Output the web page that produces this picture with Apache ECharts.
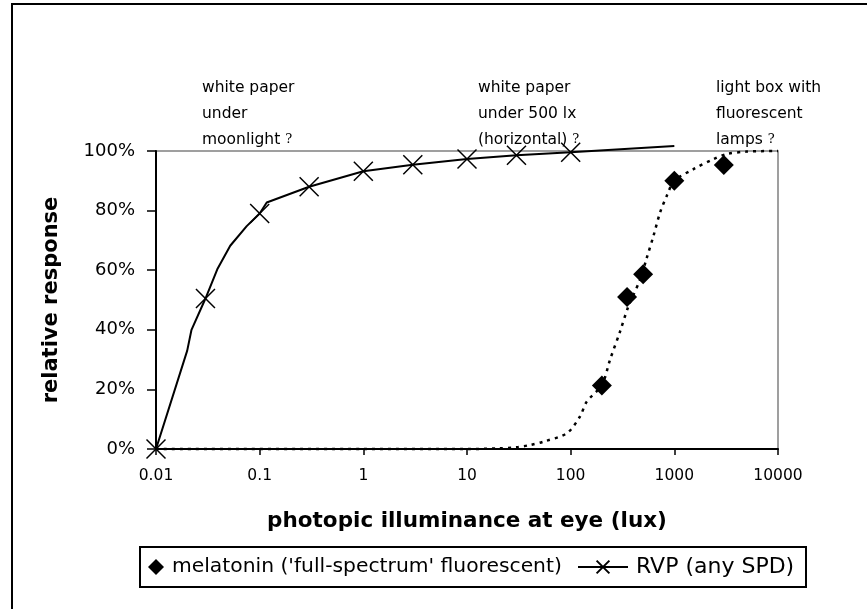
<!DOCTYPE html>
<html>
<head>
<meta charset="utf-8">
<script src="https://cdn.jsdelivr.net/npm/echarts@6/dist/echarts.min.js"></script>
<style>
  html, body { margin: 0; padding: 0; background: #fff; }
  #chart { width: 867px; height: 609px; }
</style>
</head>
<body>
<div id="chart"></div>
<script>
'use strict';

// RVP curve (line) - markers only where rvpMarked is 1
const rvpX = [0.01, 0.02, 0.022, 0.03, 0.039, 0.052, 0.075, 0.1, 0.117, 0.3, 1, 3, 10, 30, 100, 1000];
const rvpY = [0, 33, 40, 50.5, 60.3, 68.2, 74.8, 79, 82.7, 88, 93.2, 95.4, 97.3, 98.6, 99.6, 101.7];
const rvpMarked = [1, 0, 0, 1, 0, 0, 0, 1, 0, 1, 1, 1, 1, 1, 1, 0];

// melatonin measured points (diamonds)
const melX = [200, 350, 500, 1000, 3000];
const melY = [21.3, 51, 58.6, 90, 95.3];

// melatonin fitted curve (dotted)
const fitX = [0.01, 1, 10, 20, 30, 40, 55, 92, 123, 143, 200, 240, 300, 361, 468, 543, 629, 729, 847, 1000, 1528, 2384, 3206, 5000, 10000];
const fitY = [0, 0, 0, 0.2, 0.6, 1.3, 2.5, 5.3, 10.9, 15.9, 21.5, 30, 39.5, 47.9, 56.9, 64.2, 71.5, 79.4, 85, 90, 93.9, 97.3, 99, 99.8, 100];

const xTickLabels = ['0.01', '0.1', '1', '10', '100', '1000', '10000'];
const yTickLabels = ['0%', '20%', '40%', '60%', '80%', '100%'];

const melName = "melatonin ('full-spectrum' fluorescent)";
const rvpName = 'RVP (any SPD)';

const notes = [
    { x: 202, lines: ['white paper', 'under', 'moonlight'] },
    { x: 478, lines: ['white paper', 'under 500 lx', '(horizontal)'] },
    { x: 716, lines: ['light box with', 'fluorescent', 'lamps'] }
];

const FONT = '"DejaVu Sans", "Liberation Sans", Arial, sans-serif';
const crossPath = 'path://M0,0L10,10M10,0L0,10';

let chart = echarts.init(document.getElementById('chart'), null, { renderer: 'canvas' });

//
let noteGraphics = notes.map(function (n) {
    let body = n.lines.slice(0, -1).join('\n') + '\n' + n.lines[n.lines.length - 1] + ' {q|?}';
    return {
        type: 'text',
        left: n.x,
        top: 75,
        style: {
            text: body,
            font: '15.5px ' + FONT,
            fill: '#000',
            lineHeight: 26,
            rich: {
                q: { fontFamily: '"DejaVu Serif", "Liberation Serif", serif', fontSize: 13, lineHeight: 26, fill: '#000' }
            }
        }
    };
});

let option = {
    backgroundColor: '#fff',
    animation: false,
    textStyle: { fontFamily: FONT, color: '#000' },
    grid: {
        left: 156,
        right: 89,
        top: 151,
        bottom: 160,
        show: true,
        borderColor: '#808080',
        borderWidth: 1.5,
        containLabel: false
    },
    xAxis: {
        type: 'log',
        logBase: 10,
        min: 0.01,
        max: 10000,
        interval: 1,
        name: 'photopic illuminance at eye (lux)',
        nameLocation: 'middle',
        nameGap: 61,
        nameMoveOverlap: false,
        nameTextStyle: { fontFamily: FONT, fontWeight: 'bold', fontSize: 21.5, color: '#000' },
        axisLine: { lineStyle: { color: '#000', width: 2 } },
        axisTick: { show: true, inside: false, length: 6, lineStyle: { color: '#000', width: 1.5 } },
        minorTick: { show: false },
        splitLine: { show: false },
        axisLabel: {
            margin: 19,
            fontSize: 15.5,
            fontFamily: FONT,
            color: '#000',
            formatter: function (v) {
                let i = Math.round(Math.log10(v)) + 2;
                return xTickLabels[i] || '';
            }
        }
    },
    yAxis: {
        type: 'value',
        min: 0,
        max: 100,
        interval: 20,
        name: 'relative response',
        nameLocation: 'middle',
        nameGap: 94,
        nameMoveOverlap: false,
        nameTextStyle: { fontFamily: FONT, fontWeight: 'bold', fontSize: 21, color: '#000' },
        axisLine: { show: true, lineStyle: { color: '#000', width: 2 } },
        axisTick: { show: true, inside: false, length: 9, lineStyle: { color: '#000', width: 1.5 } },
        splitLine: { show: false },
        axisLabel: {
            margin: 21,
            fontSize: 18,
            fontFamily: FONT,
            color: '#000',
            formatter: function (v) {
                return yTickLabels[Math.round(v / 20)];
            }
        }
    },
    legend: [
        {
            data: [{ name: melName, icon: 'diamond' }],
            left: 148,
            top: 555,
            padding: 0,
            itemWidth: 16,
            itemHeight: 16,
            textStyle: { fontFamily: FONT, fontSize: 20.3, lineHeight: 24, color: '#000', padding: [0, 0, 0, 3] }
        },
        {
            data: [rvpName],
            left: 577,
            top: 555,
            padding: 0,
            itemWidth: 50,
            itemHeight: 16,
            textStyle: { fontFamily: FONT, fontSize: 22, lineHeight: 24, color: '#000', padding: [0, 0, 0, 3] }
        }
    ],
    graphic: [
        {
            type: 'rect',
            shape: { x: 12, y: 4, width: 900, height: 700 },
            style: { fill: 'none', stroke: '#000', lineWidth: 2 },
            silent: true
        },
        {
            type: 'rect',
            shape: { x: 140, y: 547, width: 666, height: 40 },
            style: { fill: 'none', stroke: '#000', lineWidth: 2 },
            silent: true
        }
    ].concat(noteGraphics),
    series: [
        {
            name: 'fit',
            type: 'line',
            data: fitX.map(function (x, i) { return [x, fitY[i]]; }),
            showSymbol: false,
            smooth: 0.3,
            clip: false,
            lineStyle: { color: '#000', width: 2.5, type: [3, 5] },
            z: 2
        },
        {
            name: melName,
            type: 'scatter',
            data: melX.map(function (x, i) { return [x, melY[i]]; }),
            symbol: 'diamond',
            symbolSize: 20,
            clip: false,
            itemStyle: { color: '#000', opacity: 1 },
            z: 3
        },
        {
            name: rvpName,
            type: 'line',
            data: rvpX.map(function (x, i) {
                let item = { value: [x, rvpY[i]] };
                if (!rvpMarked[i]) item.symbol = 'none';
                return item;
            }),
            symbol: crossPath,
            symbolSize: 19,
            showSymbol: true,
            smooth: false,
            clip: false,
            lineStyle: { color: '#000', width: 2 },
            itemStyle: { color: '#000', borderColor: '#000', borderWidth: 1.5 },
            z: 4
        }
    ]
};

chart.setOption(option);
</script>
</body>
</html>
